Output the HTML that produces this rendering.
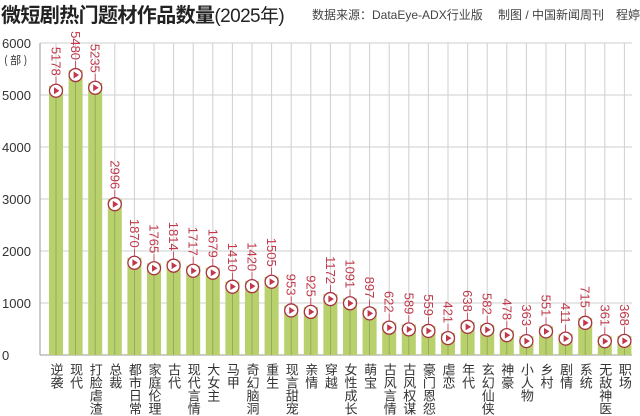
<!DOCTYPE html>
<html><head><meta charset="utf-8"><style>
body{margin:0;width:640px;height:416px;background:#fff;overflow:hidden;font-family:"Liberation Sans","Noto Sans CJK SC",sans-serif;position:relative}
.t{position:absolute;left:1px;top:-1px;font-size:20px;font-weight:bold;color:#222;letter-spacing:-0.6px;white-space:nowrap}
.t span{font-weight:normal;font-size:19px}
.s{position:absolute;left:312px;top:6px;font-size:12px;color:#444;white-space:nowrap}
.c{position:absolute;top:363px;writing-mode:vertical-rl;font-size:13px;line-height:13px;color:#333;width:13px;letter-spacing:0px}
</style></head><body>
<div class="t">微短剧热门题材作品数量<span>(2025年)</span></div>
<div class="s">数据来源：DataEye-ADX行业版　 制图 / 中国新闻周刊　程婷</div>
<svg width="640" height="416" style="position:absolute;left:0;top:0">
<g font-size="13" fill="#333" font-family="Liberation Sans,sans-serif">
<text x="2" y="48">6000</text><text x="4" y="64" font-size="11" font-family="Noto Sans CJK SC,sans-serif">( 部 )</text>
<text x="2" y="100">5000</text><text x="2" y="152">4000</text><text x="2" y="204">3000</text>
<text x="2" y="256">2000</text><text x="2" y="308">1000</text><text x="2" y="360">0</text>
</g>
<g stroke="#cfcfcf" stroke-width="1">
<line x1="40" y1="43" x2="632" y2="43"/><line x1="40" y1="95" x2="632" y2="95"/><line x1="40" y1="147" x2="632" y2="147"/>
<line x1="40" y1="199" x2="632" y2="199"/><line x1="40" y1="251" x2="632" y2="251"/><line x1="40" y1="303" x2="632" y2="303"/>
<line x1="40" y1="43" x2="40" y2="355" stroke="#999"/>
<line x1="40" y1="355" x2="632" y2="355" stroke="#999"/>
</g>
<g id="bars"></g>
</svg>
<div id="cats"></div>
<script>
var v=[5178,5480,5235,2996,1870,1765,1814,1717,1679,1410,1420,1505,953,925,1172,1091,897,622,589,559,421,638,582,478,363,551,411,715,361,368];
var n=["逆袭","现代","打脸虐渣","总裁","都市日常","家庭伦理","古代","现代言情","大女主","马甲","奇幻脑洞","重生","现言甜宠","亲情","穿越","女性成长","萌宝","古风言情","古风权谋","豪门恩怨","虐恋","年代","玄幻仙侠","神豪","小人物","乡村","剧情","系统","无敌神医","职场"];
var g='',c='';
for(var i=0;i<30;i++){var x=56+19.6*i,t=355-v[i]*0.052;
g+='<line x1="'+x+'" y1="43" x2="'+x+'" y2="355" stroke="#cfcfcf"/>';
g+='<rect x="'+(x-7)+'" y="'+t+'" width="14" height="'+(355-t)+'" fill="#b8d16c"/>';
g+='<line x1="'+x+'" y1="'+t+'" x2="'+x+'" y2="355" stroke="#8fa05a" stroke-width="0.8"/>';
var cy=t+5;
g+='<line x1="'+x+'" y1="'+(cy-14)+'" x2="'+x+'" y2="'+(cy-7)+'" stroke="#c0394b" stroke-width="0.8"/>';
g+='<circle cx="'+x+'" cy="'+cy+'" r="6.5" fill="#fff" stroke="#a8323f" stroke-width="1.3"/>';
g+='<path d="M'+(x-2)+' '+(cy-3.5)+'L'+(x+3.5)+' '+cy+'L'+(x-2)+' '+(cy+3.5)+'Z" fill="#c0394b"/>';
g+='<text transform="translate('+(x-4.5)+','+(cy-15)+') rotate(90)" text-anchor="end" font-size="13" fill="#c0394b" font-family="Liberation Sans,sans-serif">'+v[i]+'</text>';
c+='<div class="c" style="left:'+(x-6.5)+'px">'+n[i]+'</div>';}
document.getElementById('bars').innerHTML=g;
document.getElementById('cats').innerHTML=c;
</script>
</body></html>
